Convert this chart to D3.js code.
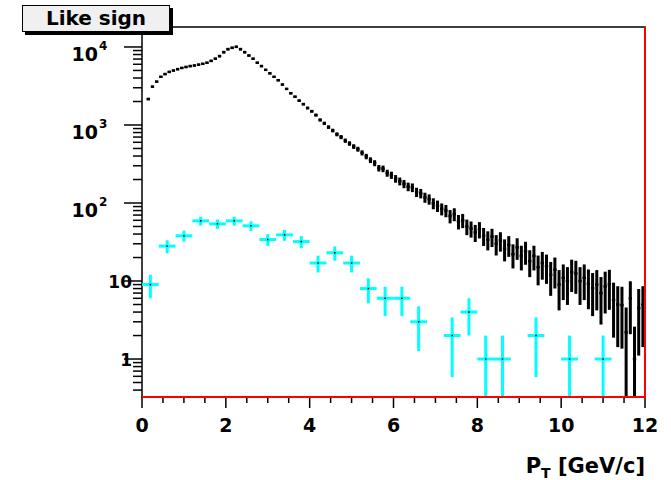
<!DOCTYPE html>
<html>
<head>
<meta charset="utf-8">
<script src="https://cdn.jsdelivr.net/npm/d3@7/dist/d3.min.js"></script>
<style>
    body { margin: 0; background: #fff; }
    text { font-family: "DejaVu Sans", "Liberation Sans", Arial, sans-serif; font-weight: bold; fill: #000; }
</style>
</head>
<body>
<svg id="chart" width="671" height="480"></svg>
<script>
// Like-sign pair pT spectrum, 0.1 GeV/c bins (black)
const blackBinWidth = 0.1;
const blackCounts = [
    0, 2150, 3100, 3600, 4150, 4500, 4800, 5000, 5200, 5400,
    5550, 5700, 5800, 5950, 6100, 6300, 6650, 7100, 7650, 8600,
    9400, 9800, 10100, 9400, 8600, 7800, 7100, 6300, 5700, 5100,
    4600, 4150, 3750, 3300, 2900, 2550, 2300, 2050, 1850, 1650,
    1500, 1340, 1160, 1050, 940, 850, 760, 700, 630, 580,
    530, 490, 440, 395, 355, 325, 280, 275, 242, 228,
    205, 190, 176, 162, 158, 138, 133, 118, 112, 99,
    92, 84, 80, 68, 72, 58, 60, 50, 47, 42,
    46, 38, 34, 37, 30, 33, 26, 29, 22, 27,
    21, 24, 18, 21, 15, 17, 15.5, 12, 14, 9,
    11, 10, 13, 12.5, 10, 11, 9.2, 8.1, 9, 7,
    8.5, 9.1, 5.7, 5, 4.9, 2.2, 6, 1, 4.5, 5
];
// weighted entries -> errors larger than plain sqrt(N)
const blackErrScale = 1.6;

// selected sample, 0.4 GeV/c bins (cyan)
const cyanBinWidth = 0.4;
const cyanCounts = [
    9, 28, 38, 59, 54, 59, 51, 34, 39, 32,
    17, 23, 17, 8, 6, 6, 3, 0, 2, 4,
    1, 1, 0, 2, 0, 1, 0, 1, 0, 0
];

const xTicksMajor = [0, 2, 4, 6, 8, 10, 12];
const yTicksMajor = [1, 10, 100, 1000, 10000];
const yTickLabels = ['1', '10', '10|2', '10|3', '10|4'];
const titleText = 'Like sign';

const svg = d3.select('#chart');
const frame = { left: 142, right: 645, top: 27, bottom: 397 };

const x = d3.scaleLinear().domain([0, 12]).range([frame.left, frame.right]);
const y = d3.scaleLog().domain([0.326, 18030]).range([frame.bottom, frame.top]);
const yMin = y.domain()[0];

// frame
svg.append('rect')
    .attr('x', frame.left).attr('y', frame.top)
    .attr('width', frame.right - frame.left).attr('height', frame.bottom - frame.top)
    .attr('fill', 'none').attr('stroke', '#000').attr('stroke-width', 1.5);

// x axis ticks (outside, below)
const xMinor = d3.range(0, 12.001, 0.5);
svg.append('g').selectAll('line')
    .data(xMinor)
    .enter().append('line')
    .attr('x1', d => x(d)).attr('x2', d => x(d))
    .attr('y1', frame.bottom)
    .attr('y2', d => frame.bottom + (d % 2 === 0 ? 11 : 6))
    .attr('stroke', '#000').attr('stroke-width', 1.5);

svg.append('g').selectAll('text')
    .data(xTicksMajor)
    .enter().append('text')
    .attr('x', d => x(d))
    .attr('y', 432)
    .attr('text-anchor', 'middle')
    .attr('font-size', '19px')
    .text(d => d);

// y axis ticks (outside, left), log minor ticks 2..9
const yMinor = [];
[-1, 0, 1, 2, 3, 4].forEach(p => {
    for (let k = 1; k <= 9; k++) {
        const v = k * Math.pow(10, p);
        if (v >= yMin && v <= y.domain()[1]) yMinor.push({ v: v, major: k === 1 });
    }
});
svg.append('g').selectAll('line')
    .data(yMinor)
    .enter().append('line')
    .attr('x1', d => frame.left - (d.major ? 18 : 9))
    .attr('x2', frame.left)
    .attr('y1', d => y(d.v)).attr('y2', d => y(d.v))
    .attr('stroke', '#000').attr('stroke-width', 1.5);

yTicksMajor.forEach((v, i) => {
    const parts = yTickLabels[i].split('|');
    if (parts.length === 1) {
        svg.append('text')
            .attr('x', 132).attr('y', y(v) + 7)
            .attr('text-anchor', 'end')
            .attr('font-size', '17px')
            .text(parts[0]);
    } else {
        svg.append('text')
            .attr('x', 98).attr('y', y(v) + 14)
            .attr('text-anchor', 'end')
            .attr('font-size', '19px')
            .text(parts[0]);
        svg.append('text')
            .attr('x', 99).attr('y', y(v) + 3)
            .attr('font-size', '12px')
            .text(parts[1]);
    }
});

// axis title
const xTitle = svg.append('text')
    .attr('x', frame.right).attr('y', 473)
    .attr('text-anchor', 'end')
    .attr('font-size', '21px');
xTitle.append('tspan').text('P');
xTitle.append('tspan').attr('font-size', '14px').attr('dy', 5).text('T');
xTitle.append('tspan').attr('dy', -5).text(' [GeV/c]');

// clip for histograms
svg.append('clipPath').attr('id', 'plotClip')
    .append('rect')
    .attr('x', frame.left).attr('y', frame.top)
    .attr('width', frame.right - frame.left).attr('height', frame.bottom - frame.top);

const plot = svg.append('g').attr('clip-path', 'url(#plotClip)');

// black histogram with error bars
const blackData = blackCounts.map((v, i) => ({
    pt: (i + 0.5) * blackBinWidth,
    v: v,
    e: blackErrScale * Math.sqrt(v)
})).filter(d => d.v > 0);

const blackG = plot.append('g').attr('class', 'black-hist');
blackG.selectAll('rect.err')
    .data(blackData)
    .enter().append('rect')
    .attr('class', 'err')
    .attr('x', d => x(d.pt) - 1.5)
    .attr('width', 3)
    .attr('y', d => y(d.v + d.e))
    .attr('height', d => {
        const lo = d.v - d.e > yMin ? y(d.v - d.e) : frame.bottom;
        return Math.max(lo - y(d.v + d.e), 2);
    })
    .attr('fill', '#000');
blackG.selectAll('line.bin')
    .data(blackData)
    .enter().append('line')
    .attr('class', 'bin')
    .attr('x1', d => x(d.pt - blackBinWidth * 0.4))
    .attr('x2', d => x(d.pt + blackBinWidth * 0.4))
    .attr('y1', d => y(d.v)).attr('y2', d => y(d.v))
    .attr('stroke', '#000').attr('stroke-width', 2.5);

// cyan histogram with error bars
const cyanData = cyanCounts.map((v, i) => ({
    pt: (i + 0.5) * cyanBinWidth,
    v: v,
    e: Math.sqrt(v)
})).filter(d => d.v > 0);

const cyanG = plot.append('g').attr('class', 'cyan-hist');
cyanG.selectAll('line.h')
    .data(cyanData)
    .enter().append('line')
    .attr('x1', d => x(d.pt - cyanBinWidth / 2))
    .attr('x2', d => x(d.pt + cyanBinWidth / 2))
    .attr('y1', d => y(d.v)).attr('y2', d => y(d.v))
    .attr('stroke', '#00ffff').attr('stroke-width', 3);
cyanG.selectAll('line.v')
    .data(cyanData)
    .enter().append('line')
    .attr('x1', d => x(d.pt)).attr('x2', d => x(d.pt))
    .attr('y1', d => y(d.v + d.e))
    .attr('y2', d => d.v - d.e > yMin ? y(d.v - d.e) : frame.bottom)
    .attr('stroke', '#00ffff').attr('stroke-width', 3);
cyanG.selectAll('rect.m')
    .data(cyanData)
    .enter().append('rect')
    .attr('x', d => x(d.pt) - 0.75).attr('y', d => y(d.v) - 0.75)
    .attr('width', 1.5).attr('height', 1.5)
    .attr('fill', '#000');

// red lines along bottom and right edge
svg.append('polyline')
    .attr('points', `${frame.left},${frame.bottom} ${frame.right},${frame.bottom} ${frame.right},${frame.top}`)
    .attr('fill', 'none').attr('stroke', '#ff0000').attr('stroke-width', 2);

// title box
svg.append('rect')
    .attr('x', 25).attr('y', 8).attr('width', 148).attr('height', 27)
    .attr('fill', '#000');
svg.append('rect')
    .attr('x', 22.5).attr('y', 5.5).attr('width', 147).attr('height', 26)
    .attr('fill', '#f0f0f0').attr('stroke', '#000').attr('stroke-width', 1);
svg.append('text')
    .attr('x', 96).attr('y', 25)
    .attr('text-anchor', 'middle')
    .attr('font-size', '20px')
    .text(titleText);
</script>
</body>
</html>
